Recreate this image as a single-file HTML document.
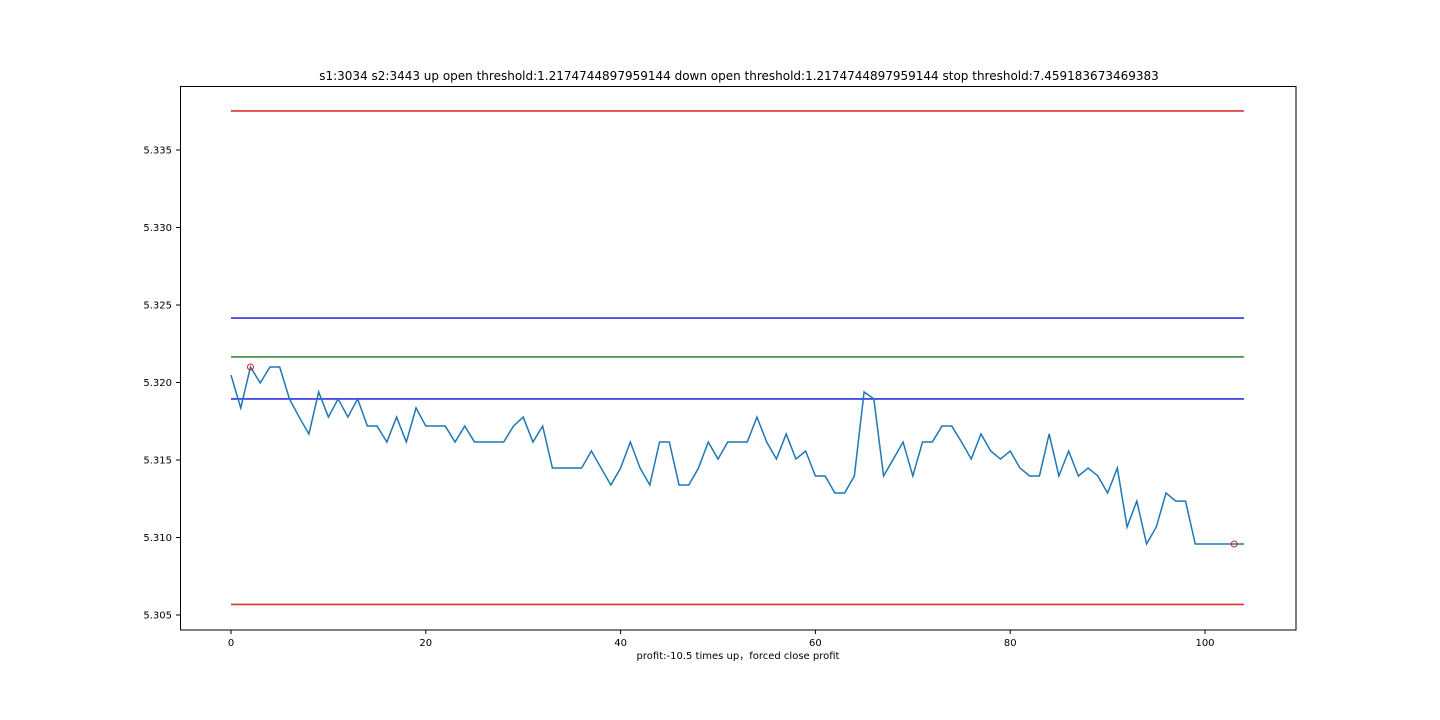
<!DOCTYPE html>
<html><head><meta charset="utf-8"><style>
body{margin:0;background:#fff;width:1440px;height:720px;overflow:hidden}
svg{display:block;font-family:"DejaVu Sans","Liberation Sans","Noto Sans CJK SC",sans-serif}
</style></head><body>
<svg id="chart" width="1440" height="720" xmlns="http://www.w3.org/2000/svg">
<rect width="1440" height="720" fill="#fff"/>
<text x="739" y="80" font-size="12" text-anchor="middle" fill="#000">s1:3034 s2:3443 up open threshold:1.2174744897959144 down open threshold:1.2174744897959144 stop threshold:7.459183673469383</text>
<text x="738" y="659" font-size="10" text-anchor="middle" fill="#000">profit:-10.5 times up，forced close profit</text>
<g id="grid"></g>
<g id="marks"></g>
<rect x="180.5" y="86.5" width="1115.5" height="543.5" fill="none" stroke="#000" stroke-width="1"/>
</svg>
<script>
const spread = [5.32048,5.31836,5.32100,5.31997,5.32100,5.32100,5.31894,5.31777,5.31668,5.31939,
5.31777,5.31894,5.31777,5.31894,5.31719,5.31719,5.31616,5.31777,5.31616,5.31836,
5.31719,5.31719,5.31719,5.31616,5.31719,5.31616,5.31616,5.31616,5.31616,5.31719,
5.31777,5.31616,5.31719,5.31448,5.31448,5.31448,5.31448,5.31558,5.31448,5.31339,
5.31448,5.31616,5.31448,5.31339,5.31616,5.31616,5.31339,5.31339,5.31448,5.31616,
5.31506,5.31616,5.31616,5.31616,5.31777,5.31616,5.31506,5.31668,5.31506,5.31558,
5.31397,5.31397,5.31287,5.31287,5.31397,5.31939,5.31894,5.31397,5.31506,5.31616,
5.31397,5.31616,5.31616,5.31719,5.31719,5.31616,5.31506,5.31668,5.31558,5.31506,
5.31558,5.31448,5.31397,5.31397,5.31668,5.31397,5.31558,5.31397,5.31448,5.31397,
5.31287,5.31448,5.31068,5.31235,5.30958,5.31068,5.31287,5.31235,5.31235,5.30958,
5.30958,5.30958,5.30958,5.30958,5.30958];
const thresholdValues = [5.33752,5.32416,5.32165,5.31894,5.30568];
const thresholdNames = ['stop-upper-line','open-upper-line','mean-line','open-lower-line','stop-lower-line'];
const thresholdColors = ['#e03030','#3030e0','#3a8a3a','#3030e0','#e03030'];
const tradeIndex = [2,103];
const xTicks = [0,20,40,60,80,100];
const yTicks = [5.305,5.310,5.315,5.320,5.325,5.330,5.335];

const NS='http://www.w3.org/2000/svg';
const X = v => 231 + v*9.74;
const Y = v => 615 - (v-5.305)*15500;
const grid=document.getElementById('grid'), marks=document.getElementById('marks');
function mk(tag,attrs,parent){const e=document.createElementNS(NS,tag);for(const k in attrs)e.setAttribute(k,attrs[k]);parent.appendChild(e);return e;}

xTicks.forEach(t=>{
  const l=mk('line',{x1:X(t),x2:X(t),y1:630,y2:634,stroke:'#000'},grid);
  
  
  const tx=mk('text',{x:X(t),y:646,'font-size':10,'text-anchor':'middle'},grid);
  tx.textContent=t;
  
  
});
yTicks.forEach(t=>{
  const l=mk('line',{x1:176,x2:180,y1:Y(t),y2:Y(t),stroke:'#000'},grid);
  
  
  const tx=mk('text',{x:172,y:Y(t)+3.5,'font-size':10,'text-anchor':'end'},grid);
  tx.textContent=t.toFixed(3);
  
  
});
thresholdValues.forEach((v,i)=>{
  const l=mk('line',{x1:X(0),x2:X(104),y1:Y(v),y2:Y(v),stroke:thresholdColors[i],'stroke-width':1.6},marks);
  
  
});
const p=mk('polyline',{points:spread.map((v,i)=>X(i)+','+Y(v)).join(' '),fill:'none',stroke:'#1f77b4','stroke-width':1.5},marks);


tradeIndex.forEach(i=>{
  const c=mk('circle',{cx:X(i),cy:Y(spread[i]),r:3,fill:'none',stroke:'#e02020','stroke-width':1},marks);
  
  
});
</script>
</body></html>
